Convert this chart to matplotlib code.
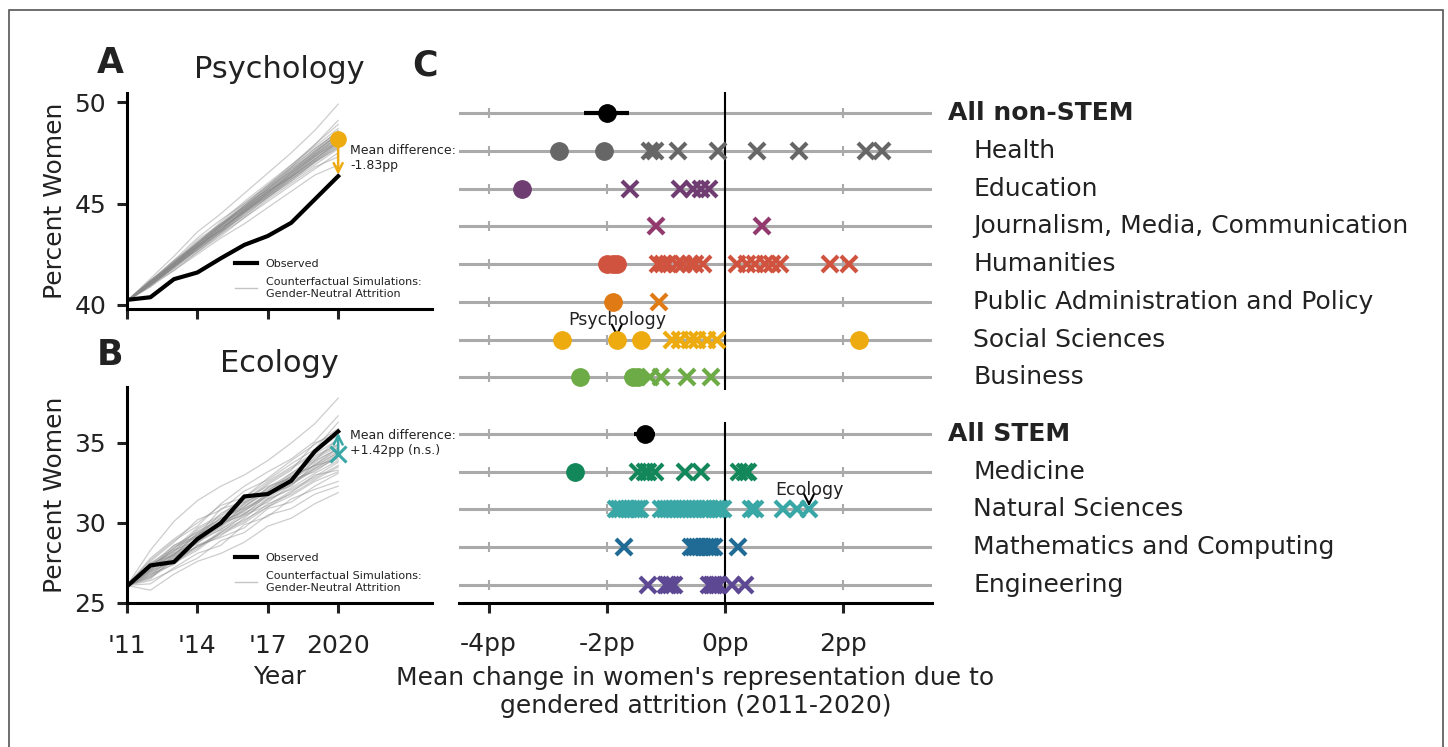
import matplotlib
matplotlib.use("Agg")
import matplotlib.pyplot as plt
import matplotlib.transforms as mtransforms
from matplotlib.patches import Rectangle
from matplotlib.lines import Line2D

plt.rcParams.update({
    "font.family": "DejaVu Sans",
    "axes.spines.top": False,
    "axes.spines.right": False,
    "text.color": "#222222",
    "axes.labelcolor": "#222222",
    "xtick.color": "#222222",
    "ytick.color": "#222222",
})

W, H = 1448, 747

# --- Panel A/B: observed vs counterfactual trajectories ---------------------
years = [2011, 2012, 2013, 2014, 2015, 2016, 2017, 2018, 2019, 2020]

psych_observed = [40.25, 40.38, 41.27, 41.6, 42.3, 42.96, 43.4, 44.05, 45.2, 46.35]
psych_sims = [
    [40.2, 41.1, 42.1, 43.0, 43.9, 44.8, 45.7, 46.6, 47.4, 48.3],
    [40.2, 41.0, 41.9, 42.7, 43.6, 44.5, 45.3, 46.2, 47.1, 47.9],
    [40.2, 41.2, 42.2, 43.3, 44.2, 45.0, 45.9, 46.9, 47.8, 48.7],
    [40.2, 41.0, 41.8, 42.6, 43.4, 44.3, 45.1, 45.9, 46.7, 47.5],
    [40.2, 41.1, 42.0, 42.9, 43.7, 44.7, 45.6, 46.4, 47.4, 48.2],
    [40.2, 41.3, 42.4, 43.6, 44.5, 45.5, 46.5, 47.5, 48.6, 49.9],
    [40.2, 40.9, 41.7, 42.5, 43.3, 44.0, 44.8, 45.6, 46.4, 46.9],
    [40.2, 41.1, 42.1, 42.9, 43.9, 44.9, 45.8, 46.6, 47.6, 48.6],
    [40.2, 41.0, 41.9, 42.8, 43.8, 44.6, 45.4, 46.3, 47.2, 48.0],
    [40.2, 41.2, 42.0, 43.1, 44.0, 44.9, 45.7, 46.7, 47.6, 48.4],
    [40.2, 41.0, 41.8, 42.8, 43.6, 44.4, 45.3, 46.1, 46.9, 47.7],
    [40.2, 41.1, 42.2, 43.0, 44.1, 45.1, 46.0, 46.9, 47.9, 48.9],
    [40.2, 40.9, 41.9, 42.7, 43.5, 44.5, 45.4, 46.2, 47.0, 47.8],
    [40.2, 41.2, 42.1, 43.2, 44.0, 44.8, 45.8, 46.8, 47.7, 48.5],
    [40.2, 41.0, 41.7, 42.6, 43.5, 44.3, 45.2, 46.0, 46.8, 47.3],
    [40.2, 41.1, 42.0, 43.0, 43.9, 44.9, 45.9, 46.8, 47.9, 49.1],
    [40.2, 41.1, 41.9, 42.9, 43.8, 44.6, 45.5, 46.5, 47.3, 48.1],
    [40.2, 41.0, 42.0, 42.9, 43.7, 44.7, 45.6, 46.3, 47.2, 48.0],
    [40.2, 41.05, 41.95, 42.95, 43.7, 44.55, 45.5, 46.35, 47.3, 48.15],
    [40.2, 41.15, 42.05, 42.9, 43.9, 44.75, 45.6, 46.5, 47.45, 48.35],
    [40.2, 40.95, 41.9, 42.75, 43.6, 44.6, 45.35, 46.2, 47.05, 47.85],
    [40.2, 41.05, 42.05, 43.05, 43.95, 44.8, 45.75, 46.7, 47.5, 48.45],
    [40.2, 41.2, 41.95, 42.85, 43.7, 44.65, 45.5, 46.45, 47.35, 48.05],
    [40.2, 41.0, 41.9, 42.8, 43.75, 44.6, 45.55, 46.35, 47.2, 48.1],
    [40.2, 41.1, 42.0, 43.0, 43.8, 44.8, 45.6, 46.55, 47.5, 48.45],
    [40.2, 41.0, 41.85, 42.7, 43.6, 44.4, 45.3, 46.1, 47.05, 47.75],
    [40.2, 41.2, 42.15, 43.1, 44.0, 45.0, 45.85, 46.75, 47.7, 48.55],
    [40.2, 41.05, 42.0, 42.85, 43.85, 44.7, 45.5, 46.4, 47.3, 48.25],
    [40.2, 41.1, 42.05, 43.0, 43.9, 44.7, 45.65, 46.5, 47.4, 48.3],
    [40.2, 41.0, 41.95, 42.85, 43.7, 44.65, 45.45, 46.3, 47.15, 48.05],
    [40.2, 41.15, 42.1, 43.05, 43.95, 44.85, 45.7, 46.6, 47.55, 48.4],
    [40.2, 41.05, 41.9, 42.8, 43.65, 44.55, 45.4, 46.3, 47.1, 47.95],
]
psych_diff = -1.83

ecol_observed = [26.04, 27.35, 27.56, 29.0, 30.0, 31.66, 31.81, 32.64, 34.47, 35.72]
ecol_sims = [
    [26.1, 27.3, 28.4, 29.5, 30.2, 31.3, 32.0, 33.1, 34.0, 34.8],
    [26.1, 26.6, 27.5, 28.3, 29.4, 30.1, 31.2, 31.8, 32.7, 33.5],
    [26.1, 27.8, 29.0, 30.0, 31.1, 31.6, 32.8, 33.9, 34.9, 35.9],
    [26.1, 26.2, 27.2, 28.1, 28.6, 29.9, 30.4, 31.5, 32.1, 32.6],
    [26.1, 27.5, 28.0, 29.4, 30.3, 31.0, 32.2, 32.9, 33.6, 34.4],
    [26.1, 28.3, 30.1, 31.4, 32.3, 33.0, 33.9, 35.0, 36.2, 37.8],
    [26.1, 25.8, 26.8, 27.6, 28.1, 28.8, 29.8, 30.3, 31.2, 31.9],
    [26.1, 27.0, 28.5, 29.1, 30.6, 31.4, 32.5, 33.4, 34.3, 35.2],
    [26.1, 26.9, 27.7, 28.8, 29.6, 30.6, 31.3, 32.4, 33.3, 34.1],
    [26.1, 27.2, 28.3, 28.9, 29.8, 31.1, 31.9, 32.6, 33.9, 34.6],
    [26.1, 26.5, 27.9, 28.5, 29.2, 30.3, 31.5, 32.1, 32.9, 33.8],
    [26.1, 27.6, 28.8, 30.2, 30.8, 32.0, 32.7, 33.7, 34.6, 36.3],
    [26.1, 26.8, 27.4, 28.6, 29.1, 29.7, 30.9, 31.3, 32.3, 33.1],
    [26.1, 27.1, 28.2, 29.6, 30.4, 31.5, 32.3, 32.8, 34.1, 34.9],
    [26.1, 27.4, 28.6, 29.2, 30.9, 31.3, 32.4, 33.3, 35.0, 35.6],
    [26.1, 26.4, 27.1, 27.8, 28.9, 29.4, 30.5, 30.9, 31.8, 32.3],
    [26.1, 27.2, 27.8, 29.0, 29.7, 30.8, 31.6, 32.7, 33.2, 34.2],
    [26.1, 26.7, 28.0, 28.7, 30.0, 30.5, 31.8, 32.3, 33.7, 34.5],
    [26.1, 27.7, 28.9, 29.8, 31.2, 32.3, 33.2, 34.0, 35.1, 36.7],
    [26.1, 27.0, 27.6, 28.4, 29.5, 30.2, 31.0, 31.9, 33.0, 33.3],
    [26.1, 27.1, 28.0, 29.1, 29.8, 30.9, 31.7, 32.5, 33.4, 34.3],
    [26.1, 26.9, 28.1, 28.8, 30.1, 30.7, 31.9, 32.7, 33.6, 34.0],
    [26.1, 27.3, 28.3, 29.3, 30.0, 31.2, 32.1, 32.8, 33.8, 34.7],
    [26.1, 26.8, 27.8, 28.9, 29.6, 30.4, 31.4, 32.2, 33.1, 33.9],
    [26.1, 27.4, 28.2, 29.2, 30.3, 30.9, 31.8, 33.0, 33.9, 35.3],
    [26.1, 26.6, 27.7, 28.5, 29.4, 30.5, 31.1, 32.0, 32.8, 33.6],
    [26.1, 27.2, 28.6, 29.4, 30.1, 31.2, 32.2, 33.1, 34.2, 34.9],
    [26.1, 27.0, 27.9, 29.0, 29.9, 30.6, 31.5, 32.5, 33.5, 34.4],
    [26.1, 27.5, 28.4, 29.7, 30.5, 31.6, 32.6, 33.5, 34.4, 35.5],
    [26.1, 26.7, 27.6, 28.6, 29.3, 30.0, 31.0, 31.7, 32.6, 33.2],
    [26.1, 27.1, 28.1, 28.9, 30.0, 30.8, 31.7, 32.4, 33.4, 34.2],
    [26.1, 27.3, 28.0, 29.3, 29.9, 31.0, 32.0, 32.9, 33.6, 34.7],
]
ecol_diff = 1.42

year_ticks = [2011, 2014, 2017, 2020]
year_labels = ["'11", "'14", "'17", "2020"]

# --- Panel C: per-field effects ----------------------------------------------
group_labels = ["All non-STEM", "All STEM"]
group_pos = [0, 8.5]
group_mean = [-2.0, -1.36]
group_err = [0.38, 0.18]

field_labels = ["Health", "Education", "Journalism, Media, Communication",
                "Humanities", "Public Administration and Policy",
                "Social Sciences", "Business",
                "Medicine", "Natural Sciences", "Mathematics and Computing",
                "Engineering"]
field_pos = [1, 2, 3, 4, 5, 6, 7, 9.5, 10.5, 11.5, 12.5]
field_colors = ["#666666", "#6f3d72", "#923a6e", "#d0533f", "#e07a14",
                "#eeab10", "#6cab45", "#12875a", "#3aa7a7", "#1f6b95",
                "#5d4894"]
# significant subfields (circles)
field_sig = [
    [-2.81, -2.05],
    [-3.43],
    [],
    [-2.0, -1.9, -1.82],
    [-1.89],
    [-2.75, -1.83, -1.43, 2.27],
    [-2.45, -1.55, -1.48],
    [-2.53],
    [],
    [],
    [],
]
# non-significant subfields (crosses)
field_ns = [
    [-1.27, -1.19, -0.80, -0.12, 0.54, 1.25, 2.39, 2.66],
    [-1.61, -0.76, -0.54, -0.40, -0.27],
    [-1.17, 0.62],
    [-1.13, -1.05, -0.96, -0.82, -0.71, -0.59, -0.51, -0.37,
     0.20, 0.37, 0.51, 0.68, 0.79, 0.93, 1.78, 2.09],
    [-1.11],
    [-0.90, -0.76, -0.59, -0.48, -0.31, -0.14],
    [-1.27, -1.08, -0.65, -0.24],
    [-1.47, -1.36, -1.30, -1.19, -0.68, -0.40, 0.23, 0.34, 0.39],
    [-1.85, -1.80, -1.74, -1.68, -1.63, -1.58, -1.53, -1.47, -1.44,
     -1.08, -1.02, -0.97, -0.91, -0.86, -0.81, -0.75, -0.70, -0.64,
     -0.58, -0.53, -0.47, -0.41, -0.36, -0.30, -0.25, -0.19, -0.14,
     -0.08, -0.03, 0.44, 0.50, 0.98, 1.22, 1.42],
    [-1.71, -0.57, -0.52, -0.47, -0.42, -0.38, -0.33, -0.28, -0.24,
     -0.19, 0.22],
    [-1.30, -1.00, -0.96, -0.92, -0.87, -0.27, -0.22, -0.18, -0.14,
     -0.10, 0.11, 0.34],
]
pp_ticks = [-4, -2, 0, 2]
pp_labels = ["-4pp", "-2pp", "0pp", "2pp"]

SIM_GREY = "#888888"
ROW_GREY = "#aaaaaa"
TICK_FS = 18


def px_axes(left, top, right, bottom):
    return fig.add_axes([left / W, 1 - bottom / H, (right - left) / W, (bottom - top) / H])


def trajectory_panel(ax, observed, sims, diff, color, marker, title, ylim, yticks, note):
    # semi-transparent strokes so the dense middle of the ensemble reads darker
    for s in sims:
        ax.plot(years, s, color=SIM_GREY, alpha=0.42, lw=0.9, zorder=1)
    ax.plot(years, observed, color="black", lw=3, zorder=3)
    end = observed[-1]
    cf = end - diff
    ax.annotate("", xy=(years[-1], end), xytext=(years[-1], cf),
                arrowprops=dict(arrowstyle="->", color=color, lw=1.8,
                                shrinkA=0, shrinkB=1, mutation_scale=16),
                zorder=4)
    if marker == "o":
        ax.plot(years[-1], cf, "o", color=color, ms=11, zorder=5)
    else:
        ax.plot(years[-1], cf, "x", color=color, ms=11, mew=2.2, zorder=5)
    ax.text(2020.5, (end + cf) / 2 if marker == "x" else cf - 0.95, note,
            fontsize=9, va="center", ha="left")

    ax.set_xlim(2011, 2024)
    ax.set_ylim(*ylim)
    ax.set_yticks(yticks)
    ax.set_xticks(year_ticks)
    ax.set_title(title, fontsize=22, pad=11)
    ax.set_ylabel("Percent Women", fontsize=TICK_FS, labelpad=5)
    for side in ("left", "bottom"):
        ax.spines[side].set_linewidth(2.2)
    ax.tick_params(width=2.2, length=7, labelsize=TICK_FS)
    ax.tick_params(axis="y", pad=8)
    ax.tick_params(axis="x", pad=15)

    handles = [Line2D([], [], color="black", lw=3),
               Line2D([], [], color="#c4c4c4", lw=1)]
    ax.legend(handles, ["Observed", "Counterfactual Simulations:\nGender-Neutral Attrition"],
              loc="lower left", bbox_to_anchor=(0.32, 0.0), frameon=False,
              fontsize=8, handlelength=2.0, handletextpad=0.8, labelspacing=0.75)


fig = plt.figure(figsize=(W / 100, H / 100), dpi=100)

axA = px_axes(127, 93, 432, 309)
trajectory_panel(axA, psych_observed, psych_sims, psych_diff, "#eeab10", "o",
                 "Psychology", (39.8, 50.45), [40, 45, 50],
                 "Mean difference:\n-1.83pp")
axA.set_xticklabels([])

axB = px_axes(127, 387, 432, 603)
trajectory_panel(axB, ecol_observed, ecol_sims, ecol_diff, "#3aa7a7", "x",
                 "Ecology", (25.0, 38.5), [25, 30, 35],
                 "Mean difference:\n+1.42pp (n.s.)")
axB.set_xticklabels(year_labels)
axB.set_xlabel("Year", fontsize=TICK_FS, labelpad=5)

# --- Panel C ---------------------------------------------------------------
axC = px_axes(459, 92, 932, 603)
axC.set_xlim(-4.5, 3.5)
axC.set_ylim(12.98, -0.56)

all_pos = group_pos + field_pos
for pos in all_pos:
    axC.axhline(pos, color=ROW_GREY, lw=2.2, zorder=1)
    axC.plot(pp_ticks, [pos] * len(pp_ticks), "|", color=ROW_GREY, ms=7, mew=1.5, zorder=1)

axC.plot([0, 0], [-0.56, 7.3], color="black", lw=1.5, zorder=2)
axC.plot([0, 0], [8.2, 12.98], color="black", lw=1.5, zorder=2)

axC.errorbar(group_mean, group_pos, xerr=group_err, fmt="o", color="black",
             ms=12.5, elinewidth=3, capsize=0, zorder=4)

for pos, c, sig, ns in zip(field_pos, field_colors, field_sig, field_ns):
    axC.plot(ns, [pos] * len(ns), "x", color=c, ms=12, mew=3, zorder=3)
    axC.plot(sig, [pos] * len(sig), "o", color=c, ms=12.5, zorder=4)

trans = mtransforms.blended_transform_factory(fig.transFigure, axC.transData)
for lab, pos in zip(group_labels, group_pos):
    axC.text(948 / W, pos, lab, transform=trans, va="center", ha="left",
             fontsize=18, fontweight="bold")
for lab, pos in zip(field_labels, field_pos):
    axC.text(973 / W, pos, lab, transform=trans, va="center", ha="left",
             fontsize=18)

axC.annotate("Psychology", xy=(psych_diff, 5.93), xytext=(psych_diff, 5.48),
             ha="center", va="center", fontsize=12.5,
             arrowprops=dict(arrowstyle="->", color="black", lw=1.5,
                             shrinkA=0, shrinkB=0, mutation_scale=18))
axC.annotate("Ecology", xy=(ecol_diff, 10.42), xytext=(ecol_diff, 9.98),
             ha="center", va="center", fontsize=12.5,
             arrowprops=dict(arrowstyle="->", color="black", lw=1.5,
                             shrinkA=0, shrinkB=0, mutation_scale=18))

axC.spines["left"].set_visible(False)
axC.spines["bottom"].set_linewidth(2.2)
axC.set_yticks([])
axC.set_xticks(pp_ticks)
axC.set_xticklabels(pp_labels)
axC.tick_params(axis="x", width=2.2, length=7, labelsize=TICK_FS, pad=14)
axC.set_xlabel("Mean change in women's representation due to\ngendered attrition (2011-2020)",
               fontsize=TICK_FS, labelpad=7, linespacing=1.2)

# panel letters
fig.text(110 / W, 1 - 73 / H, "A", fontsize=25, fontweight="bold", ha="center", va="baseline")
fig.text(110 / W, 1 - 365 / H, "B", fontsize=25, fontweight="bold", ha="center", va="baseline")
fig.text(425 / W, 1 - 75 / H, "C", fontsize=25, fontweight="bold", ha="center", va="baseline")

# outer frame
fig.add_artist(Rectangle((9 / W, -0.05), (1443 - 9) / W, 1.05 - 10 / H,
                         transform=fig.transFigure, fill=False,
                         ec="#555555", lw=1.2))

fig.savefig("out.png", dpi=100)
